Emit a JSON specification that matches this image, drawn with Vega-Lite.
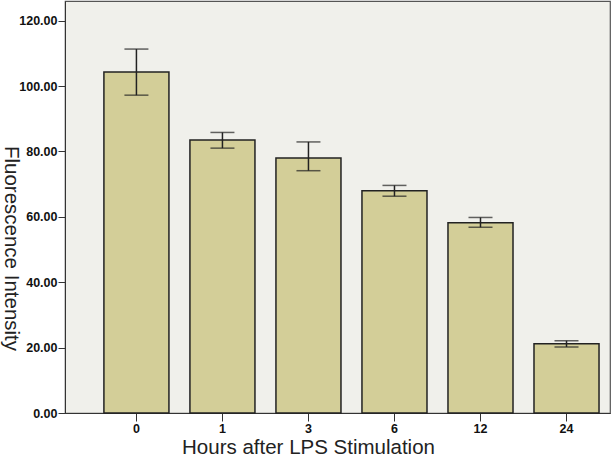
{
  "$schema": "https://vega.github.io/schema/vega-lite/v6.json",
  "autosize": {"type": "none"},
  "width": 545,
  "height": 412,
  "padding": {"left": 65, "top": 1, "right": 1, "bottom": 43},
  "background": "#ffffff",
  "config": {
    "view": {"fill": "#F0F0EB", "stroke": "#555555", "strokeWidth": 1.2},
    "axis": {
      "labelFont": "Liberation Sans Narrow, Liberation Sans, sans-serif",
      "labelFontWeight": "bold",
      "labelFontSize": 12.5,
      "labelColor": "#111111",
      "titleFont": "Liberation Sans",
      "titleFontWeight": "normal",
      "titleFontSize": 20.5,
      "titleColor": "#222222",
      "domainColor": "#333333",
      "tickColor": "#333333",
      "grid": false
    }
  },
  "data": {
    "values": [
      {"hours": "0", "mean": 104.3, "lo": 97.2, "hi": 111.3},
      {"hours": "1", "mean": 83.5, "lo": 81.0, "hi": 85.8},
      {"hours": "3", "mean": 78.0, "lo": 74.1, "hi": 82.9},
      {"hours": "6", "mean": 68.0, "lo": 66.3, "hi": 69.6},
      {"hours": "12", "mean": 58.2, "lo": 56.8, "hi": 59.8},
      {"hours": "24", "mean": 21.2, "lo": 20.2, "hi": 22.1}
    ]
  },
  "encoding": {
    "x": {
      "field": "hours",
      "type": "ordinal",
      "sort": null,
      "scale": {"paddingInner": 0.244, "paddingOuter": 0.29, "align": 0.78},
      "axis": {
        "title": "Hours after LPS Stimulation",
        "labelAngle": 0,
        "tickSize": 8,
        "labelPadding": 1,
        "titleX": 243,
        "titleY": 40,
        "titleBaseline": "alphabetic",
        "titleAnchor": "middle"
      }
    }
  },
  "layer": [
    {
      "mark": {"type": "bar", "fill": "#D3CE98", "stroke": "#222222", "strokeWidth": 1.5},
      "encoding": {
        "y": {
          "field": "mean",
          "type": "quantitative",
          "scale": {"domain": [0, 126], "nice": false},
          "axis": {
            "title": "Fluorescence Intensity",
            "values": [0, 20, 40, 60, 80, 100, 120],
            "format": ".2f",
            "tickSize": 7,
            "labelPadding": 1,
            "titleAngle": 90,
            "titleX": -55,
            "titleY": 247,
            "titleAlign": "center",
            "titleBaseline": "middle"
          }
        }
      }
    },
    {
      "mark": {"type": "rule", "stroke": "#222222", "strokeWidth": 1.5},
      "encoding": {
        "y": {"field": "lo", "type": "quantitative"},
        "y2": {"field": "hi"}
      }
    },
    {
      "mark": {"type": "tick", "orient": "horizontal", "size": 24, "thickness": 1.5, "color": "#222222"},
      "encoding": {"y": {"field": "lo", "type": "quantitative"}}
    },
    {
      "mark": {"type": "tick", "orient": "horizontal", "size": 24, "thickness": 1.5, "color": "#222222"},
      "encoding": {"y": {"field": "hi", "type": "quantitative"}}
    }
  ]
}
